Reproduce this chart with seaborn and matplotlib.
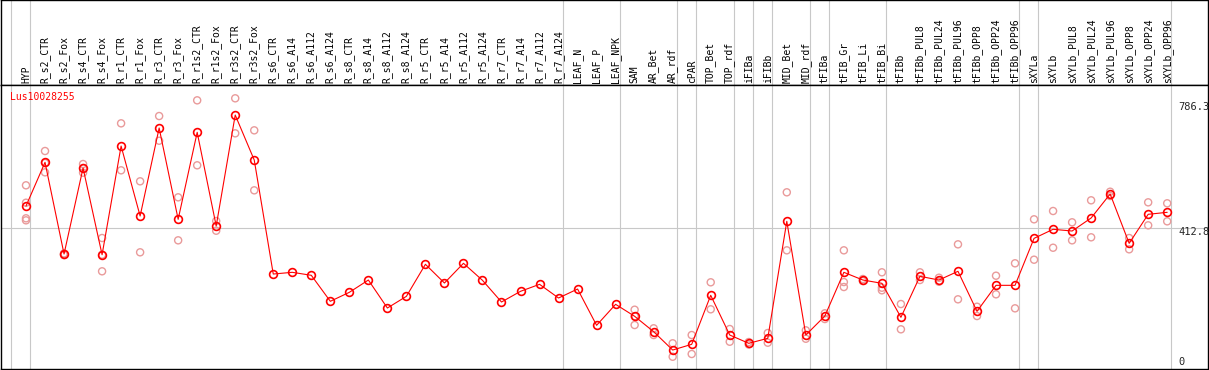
import matplotlib
matplotlib.use("Agg")
import matplotlib.pyplot as plt
import matplotlib.transforms as mtransforms
import seaborn as sns
import pandas as pd
import numpy as np

# Sample columns (left to right)
samples = ['HYP', 'R_s2_CTR', 'R_s2_Fox', 'R_s4_CTR', 'R_s4_Fox', 'R_r1_CTR', 'R_r1_Fox',
           'R_r3_CTR', 'R_r3_Fox', 'R_r1s2_CTR', 'R_r1s2_Fox', 'R_r3s2_CTR', 'R_r3s2_Fox',
           'R_s6_CTR', 'R_s6_A14', 'R_s6_A112', 'R_s6_A124', 'R_s8_CTR', 'R_s8_A14', 'R_s8_A112',
           'R_s8_A124', 'R_r5_CTR', 'R_r5_A14', 'R_r5_A112', 'R_r5_A124', 'R_r7_CTR', 'R_r7_A14',
           'R_r7_A112', 'R_r7_A124', 'LEAF_N', 'LEAF_P', 'LEAF_NPK', 'SAM', 'AR_Bet', 'AR_rdf',
           'cPAR', 'TOP_Bet', 'TOP_rdf', 'iFIBa', 'iFIBb', 'MID_Bet', 'MID_rdf', 'tFIBa',
           'tFIB_Gr', 'tFIB_Li', 'tFIB_Bi', 'tFIBb', 'tFIBb_PUL8', 'tFIBb_PUL24', 'tFIBb_PUL96',
           'tFIBb_OPP8', 'tFIBb_OPP24', 'tFIBb_OPP96', 'sXYLa', 'sXYLb', 'sXYLb_PUL8',
           'sXYLb_PUL24', 'sXYLb_PUL96', 'sXYLb_OPP8', 'sXYLb_OPP24', 'sXYLb_OPP96']

# Mean expression per sample
means = [479.0, 609.0, 336.3, 592.0, 334.2, 657.4, 449.3, 711.0, 439.5, 698.2, 419.6, 749.6, 615.8,
         276.8, 281.9, 273.0, 195.7, 222.4, 259.0, 175.7, 210.5, 305.7, 250.1, 308.7, 258.1,
         193.6, 225.4, 246.2, 205.5, 232.2, 124.3, 186.7, 151.1, 105.3, 50.8, 67.8, 213.5,
         95.4, 70.8, 85.6, 433.5, 95.4, 151.9, 281.9, 259.0, 249.2, 148.1, 270.0, 259.0,
         284.9, 165.9, 243.2, 243.2, 382.9, 409.8, 404.7, 443.4, 514.7, 368.1, 454.4, 460.3]

# Individual replicates (only where shown)
replicates = {
    'HYP': [540.6, 488.8, 442.5, 436.5],
    'R_s2_CTR': [642.6, 606.9, 579.2],
    'R_s2_Fox': [333.0, 338.0, 336.0],
    'R_s4_CTR': [603.9, 592.0, 578.1],
    'R_s4_Fox': [383.9, 334.2, 284.9],
    'R_r1_CTR': [724.9, 585.2],
    'R_r1_Fox': [552.5, 341.4],
    'R_r3_CTR': [746.6, 673.2],
    'R_r3_Fox': [504.9, 377.0],
    'R_r1s2_CTR': [793.3, 600.1],
    'R_r1s2_Fox': [434.4, 405.6],
    'R_r3s2_CTR': [799.3, 695.2],
    'R_r3s2_Fox': [704.1, 525.7],
    'SAM': [170.7, 151.0, 125.2],
    'AR_Bet': [115.4, 95.4],
    'AR_rdf': [70.8, 30.9],
    'cPAR': [95.4, 39.0],
    'TOP_Bet': [252.2, 171.9],
    'TOP_rdf': [113.3, 75.5],
    'iFIBa': [74.6, 67.2],
    'iFIBb': [101.4, 72.6],
    'MID_Bet': [519.8, 347.3],
    'MID_rdf': [109.4, 84.4],
    'tFIBa': [160.0, 143.0],
    'tFIB_Gr': [347.3, 253.0, 238.2],
    'tFIB_Li': [262.0, 256.0],
    'tFIB_Bi': [281.9, 236.1, 228.4],
    'tFIBb': [187.6, 112.4],
    'tFIBb_PUL8': [281.9, 259.0],
    'tFIBb_PUL24': [265.8, 253.9],
    'tFIBb_PUL96': [365.1, 201.6],
    'tFIBb_OPP8': [179.6, 151.9],
    'tFIBb_OPP24': [271.8, 216.5],
    'tFIBb_OPP96': [308.7, 174.8],
    'sXYLa': [439.5, 319.4],
    'sXYLb': [464.2, 355.0],
    'sXYLb_PUL8': [430.6, 377.0],
    'sXYLb_PUL24': [496.0, 386.0],
    'sXYLb_PUL96': [521.6, 508.8],
    'sXYLb_OPP8': [383.9, 350.3],
    'sXYLb_OPP24': [490.0, 421.6],
    'sXYLb_OPP96': [487.1, 433.5],
}

# column indices after which a grey separator is drawn
group_breaks = [0, 1, 29, 32, 35, 36, 38, 39, 40, 42, 43, 46, 53, 54, 61]
gene = 'Lus10028255'
axis_labels = [(786.3, '786.3'), (412.8, '412.8'), (0, '0')]

RED = '#ff0000'
PINK = '#e99a9a'
GREY = '#c8c8c8'

sns.set_style("white")
plt.rcParams['font.family'] = ['DejaVu Sans Mono']

idx = np.arange(len(samples))
mean_df = pd.DataFrame({'pos': idx, 'value': means})
rep_df = pd.DataFrame([(samples.index(s), v) for s, vals in replicates.items() for v in vals],
                      columns=['pos', 'value'])

fig = plt.figure(figsize=(12.09, 3.70), dpi=100)
W, H = 1209.0, 370.0
xlim = (-25 / 19.02, 1182 / 19.02)

# header with sample names, main plot below
hdr = fig.add_axes([1 / W, 1 - 85.3 / H, 1207 / W, 85.3 / H])
ax = fig.add_axes([1 / W, 1 / H, 1207 / W, (369 - 85.3) / H])

for a in (hdr, ax):
    a.set_xlim(*xlim)
    a.set_xticks([])
    a.set_yticks([])
    for b in group_breaks:
        a.axvline(b - 0.79, color=GREY, lw=0.8, zorder=0)
    for sp in a.spines.values():
        sp.set_color('black')
        sp.set_linewidth(1.0)

hdr.set_ylim(0, 1)
for i, s in enumerate(samples):
    hdr.text(i, 0.025, s, rotation=90, ha='center', va='bottom', fontsize=7, color='black')

ax.set_ylim(-5.6, 838.0)
ax.axhline(412.8, color=GREY, lw=0.8, zorder=0)

sns.scatterplot(data=rep_df, x='pos', y='value', ax=ax, marker='o', s=26,
                facecolors='none', edgecolor=PINK, linewidth=1.0, zorder=2, legend=False)
sns.lineplot(data=mean_df, x='pos', y='value', ax=ax, color=RED, lw=0.8, zorder=3,
             marker='o', markersize=5.6, markerfacecolor='none', markeredgecolor=RED,
             markeredgewidth=1.2)
ax.set_xlabel('')
ax.set_ylabel('')

ax.text(9 / 1207, 1 - 11.7 / 283.7, gene, transform=ax.transAxes, color=RED,
        fontsize=7, ha='left', va='center')

trans = mtransforms.blended_transform_factory(ax.transAxes, ax.transData)
for val, lab in axis_labels:
    dy = 3.7 if val == 0 else -3.0
    ax.annotate(lab, xy=(1177 / 1207, val), xycoords=trans, xytext=(0, dy),
                textcoords='offset points', ha='left', va='center', fontsize=7.5)

fig.savefig('out.png', dpi=100)
